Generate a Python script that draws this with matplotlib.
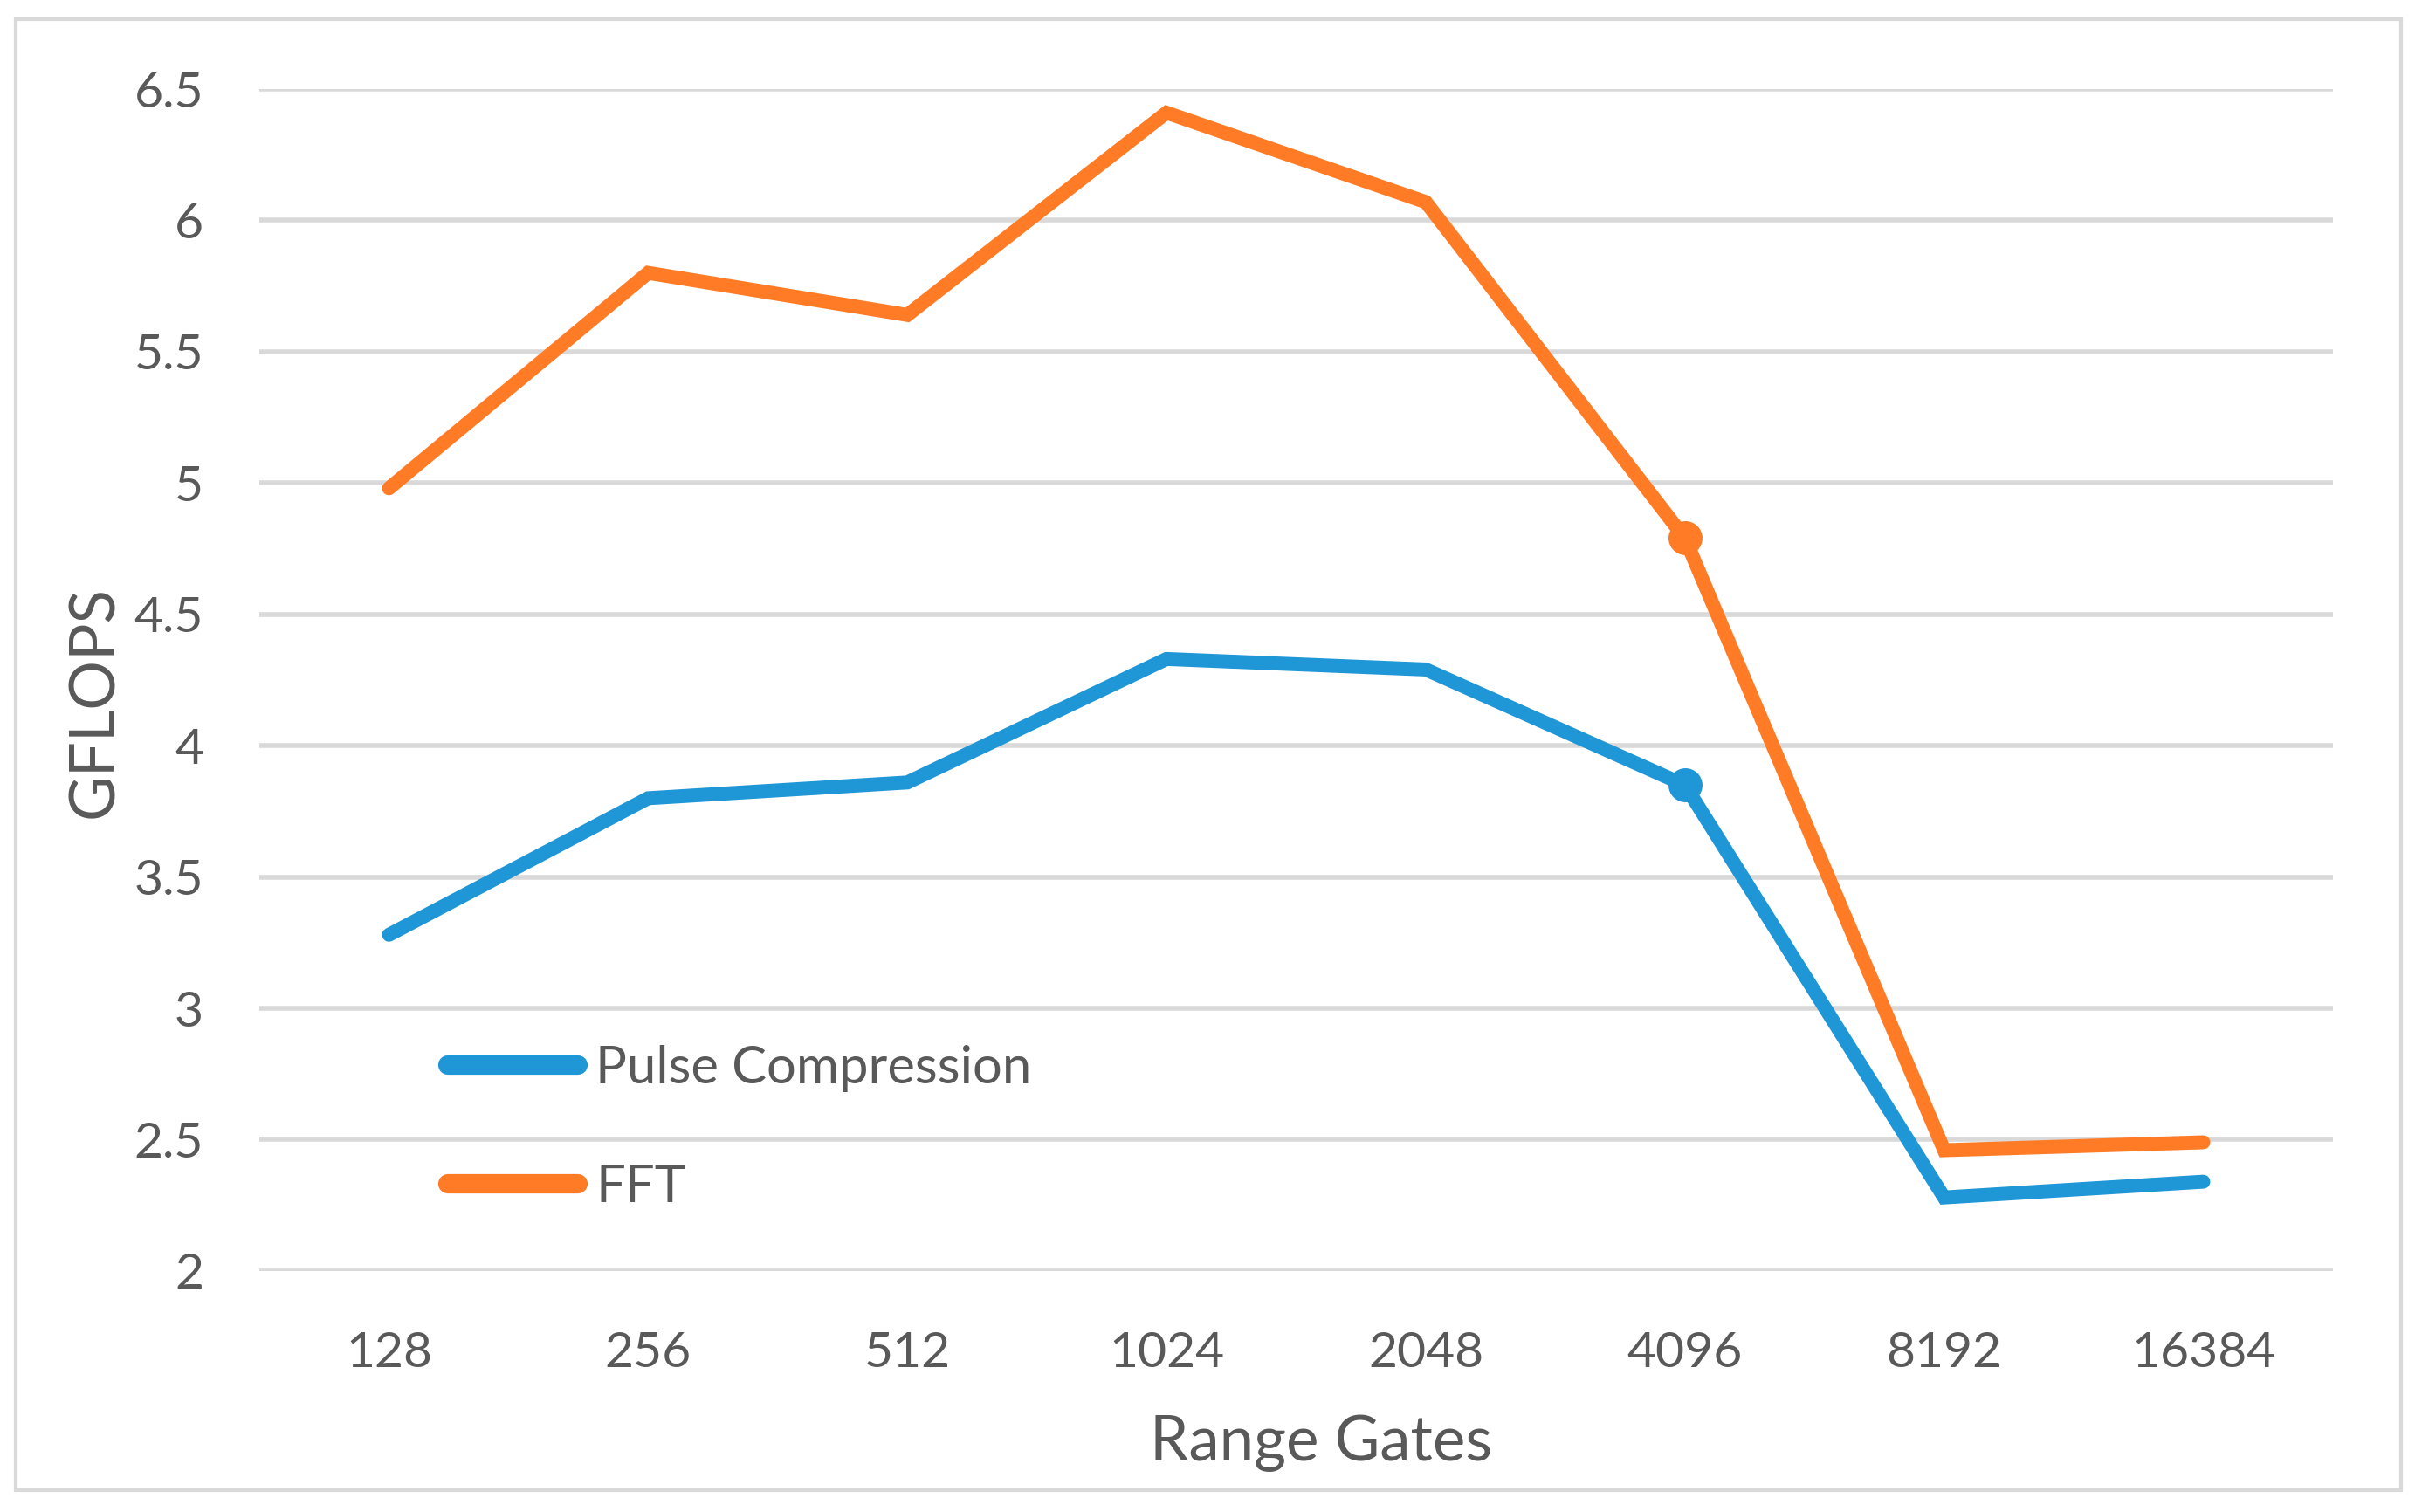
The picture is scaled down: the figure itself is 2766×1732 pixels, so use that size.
import matplotlib.pyplot as plt
from matplotlib.patches import Rectangle

range_gates = ['128', '256', '512', '1024', '2048', '4096', '8192', '16384']
pulse_compression = [3.28, 3.80, 3.86, 4.33, 4.29, 3.85, 2.28, 2.34]
fft = [4.98, 5.80, 5.64, 6.41, 6.07, 4.79, 2.46, 2.49]

blue = '#1f96d6'
orange = '#ff7b25'
grey_text = '#595959'

plt.rcParams['font.family'] = ['Lato', 'DejaVu Sans']

fig = plt.figure(figsize=(27.66, 17.32), dpi=100)
ax = fig.add_axes([0.1074, 0.1594, 0.8586, 0.7817])

x = range(len(range_gates))
ax.plot(x, pulse_compression, color=blue, lw=11.5, solid_capstyle='round',
        solid_joinstyle='miter', marker='o', markevery=[5], markersize=27,
        label='Pulse Compression')
ax.plot(x, fft, color=orange, lw=11.5, solid_capstyle='round',
        solid_joinstyle='miter', marker='o', markevery=[5], markersize=27,
        label='FFT')

ax.set_xlim(-0.5, len(range_gates) - 0.5)
ax.set_ylim(2, 6.5)
ax.set_yticks([2, 2.5, 3, 3.5, 4, 4.5, 5, 5.5, 6, 6.5])
ax.set_yticklabels(['2', '2.5', '3', '3.5', '4', '4.5', '5', '5.5', '6', '6.5'])
ax.set_xticks(list(x))
ax.set_xticklabels(range_gates)
ax.tick_params(axis='both', length=0, labelsize=41, colors=grey_text)
ax.tick_params(axis='y', pad=46)
ax.tick_params(axis='x', pad=50)

ax.grid(axis='y', color='#d9d9d9', lw=4)
ax.set_axisbelow(True)
for s in ax.spines.values():
    s.set_visible(False)

fig.text(0.0394, 0.536, 'GFLOPS', rotation=90, ha='center', va='center',
         fontsize=51, color=grey_text)
fig.text(0.547, 0.0455, 'Range Gates', ha='center', va='center',
         fontsize=51, color=grey_text)

leg = ax.legend(loc='upper left', bbox_to_anchor=(0.1855, 0.309),
                bbox_transform=fig.transFigure, frameon=False, fontsize=43,
                handlelength=2.5, handletextpad=0.33, labelspacing=1.37,
                borderpad=0, borderaxespad=0)
for t in leg.get_texts():
    t.set_color(grey_text)
for h in leg.get_lines():
    h.set_marker('')
    h.set_linewidth(16)

fig.patches.append(Rectangle((0.0065, 0.0145), 0.9877, 0.973,
                             transform=fig.transFigure, fill=False,
                             edgecolor='#d9d9d9', lw=3))

fig.savefig('out.png', dpi=100, facecolor='white')
